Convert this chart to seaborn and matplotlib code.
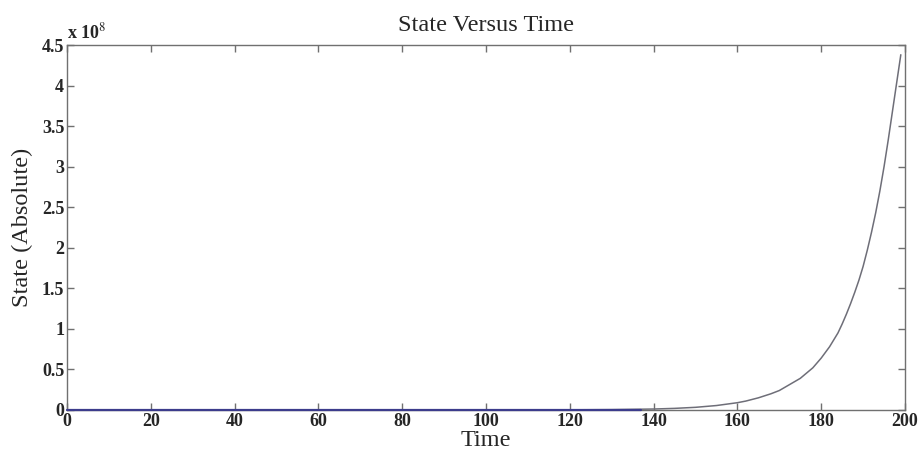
import matplotlib

matplotlib.use("Agg")

import matplotlib.pyplot as plt
import pandas as pd
import seaborn as sns
from matplotlib.ticker import FuncFormatter, MultipleLocator


# values (state in units of 1e8)
TIME = [0, 20, 40, 60, 80, 100, 120, 130, 140, 145, 150, 155, 160, 162, 165,
        168, 170, 172, 175, 178, 180, 182, 184, 185, 186, 187, 188, 189, 190,
        191, 192, 193, 194, 195, 196, 197, 198, 199]
STATE_E8 = [0, 0, 0, 0, 0, 0.0002, 0.002, 0.005, 0.012, 0.02, 0.033, 0.055,
            0.09, 0.11, 0.15, 0.2, 0.24, 0.3, 0.39, 0.52, 0.64, 0.78, 0.95,
            1.06, 1.18, 1.31, 1.45, 1.6, 1.77, 1.97, 2.19, 2.43, 2.7, 3.0, 3.33,
            3.68, 4.03, 4.38]

# the other state stays flat at zero
FLAT_TIME = [0, 137]
FLAT_STATE_E8 = [0, 0]

X_TICKS = list(range(0, 201, 20))

sns.set_style("ticks")
plt.rcParams["font.family"] = ["Liberation Serif", "DejaVu Serif"]
plt.rcParams["mathtext.fontset"] = "stix"


def main() -> None:
    curve = pd.DataFrame({"Time": TIME, "State": STATE_E8})
    flat = pd.DataFrame({"Time": FLAT_TIME, "State": FLAT_STATE_E8})

    fig, ax = plt.subplots(figsize=(9.22, 4.57), dpi=100)
    fig.subplots_adjust(left=67 / 922, right=905 / 922, top=1 - 45 / 457, bottom=1 - 410 / 457)

    sns.lineplot(data=curve, x="Time", y="State", ax=ax, color="#6e6e78", linewidth=1.1)
    sns.lineplot(data=flat, x="Time", y="State", ax=ax, color="#3c3c8c", linewidth=1.6,
                 clip_on=False, zorder=3)

    ax.set_xlim(0, 200)
    ax.set_ylim(0, 4.5)
    ax.set_xticks(X_TICKS)
    ax.yaxis.set_major_locator(MultipleLocator(0.5))
    ax.yaxis.set_major_formatter(FuncFormatter(lambda v, _: f"{v:g}"))

    ax.tick_params(direction="in", length=5, width=1, color="#707070",
                   top=True, right=True, labelsize=13, pad=2)
    for label in ax.get_xticklabels() + ax.get_yticklabels():
        label.set_fontweight("bold")
    for spine in ax.spines.values():
        spine.set_visible(True)
        spine.set_color("#707070")
        spine.set_linewidth(1)

    ax.set_title("State Versus Time", fontsize=17.5, pad=10)
    ax.set_xlabel("Time", fontsize=17.5, labelpad=0)
    ax.set_ylabel("State (Absolute)", fontsize=17.5, labelpad=6)

    ax.text(0.0, 1.008, "x 10$^{8}$", transform=ax.transAxes, fontsize=13,
            fontweight="bold", ha="left", va="bottom")

    fig.savefig("out.png", dpi=100)
    plt.close(fig)


if __name__ == "__main__":
    main()
